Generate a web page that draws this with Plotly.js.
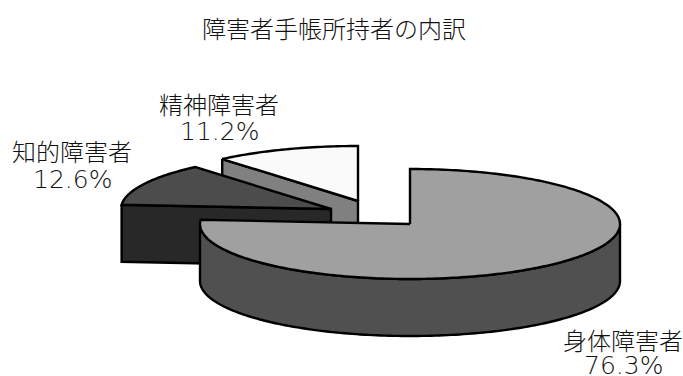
<!DOCTYPE html>
<html lang="ja">
<head>
<meta charset="utf-8">
<script src="https://cdn.plot.ly/plotly-3.0.1.min.js"></script>
<style>html,body{margin:0;padding:0;background:#fff}</style>
</head>
<body>
<div id="chart" style="width:683px;height:376px"></div>
<script>
// Breakdown of disability certificate holders
const chartTitle = '障害者手帳所持者の内訳';
const categories = ['身体障害者', '知的障害者', '精神障害者'];
const shares = [76.3, 12.6, 11.2];

// Pie drawn as an exploded disc seen from above
const radiusX = 210, radiusY = 55, depth = 57;
const centres = [[410, 224], [331, 209], [358, 201]];
const topColours = ['#a0a0a0', '#4c4c4c', '#fafafa'];
const cutColours = [null, '#282828', '#808080'];
const rimColour = '#505050';
const labelAt = [[623, 339, 365], [72, 150, 179], [219, 103, 131]];

const total = shares.reduce((a, b) => a + b, 0);
const edges = [0];
shares.forEach(v => edges.push(edges[edges.length - 1] + v / total * 2 * Math.PI));

const rimPoint = (c, a, drop = 0) => [c[0] + radiusX * Math.sin(a), c[1] - radiusY * Math.cos(a) + drop];

function arc(c, from, to, drop = 0) {
  const n = Math.max(2, Math.ceil(Math.abs(to - from) / 0.02));
  const pts = [];
  for (let i = 0; i <= n; i++) pts.push(rimPoint(c, from + (to - from) * i / n, drop));
  return pts;
}

function shape(pts, colour) {
  return {
    x: pts.map(p => p[0]), y: pts.map(p => p[1]),
    mode: 'lines', fill: 'toself', fillcolor: colour,
    line: {color: '#000', width: 2.4, simplify: false},
    hoverinfo: 'skip', showlegend: false
  };
}

const traces = [];

// Back slices first: the cut wall facing the viewer, then the top face
[2, 1].forEach(i => {
  const c = centres[i];
  const p = rimPoint(c, edges[i]);
  traces.push(shape([p, c, [c[0], c[1] + depth], [p[0], p[1] + depth], p], cutColours[i]));
  traces.push(shape([c, ...arc(c, edges[i], edges[i + 1]), c], topColours[i]));
});

// The large slice: curved front wall, then top face
{
  const c = centres[0];
  const half = Math.PI / 2, threeHalf = 3 * Math.PI / 2;
  traces.push(shape([...arc(c, half, threeHalf), ...arc(c, threeHalf, half, depth), rimPoint(c, half)], rimColour));
  traces.push(shape([c, ...arc(c, edges[0], edges[1]), c], topColours[0]));
}

const latin = '"DejaVu Sans Light", "DejaVu Sans", sans-serif';
const cjk = '"Noto Sans CJK JP", sans-serif';
const textColour = '#111';
const annotations = [{x: 334, y: 27, text: chartTitle, showarrow: false, font: {family: cjk, size: 24, weight: 300, color: textColour}}];
categories.forEach((name, i) => {
  annotations.push({x: labelAt[i][0], y: labelAt[i][1], text: name, showarrow: false, font: {family: cjk, size: 24, weight: 300, color: textColour}});
  annotations.push({x: labelAt[i][0], y: labelAt[i][2], text: shares[i].toFixed(1) + '%', showarrow: false, font: {family: latin, size: 25, weight: 200, color: textColour}});
});

Plotly.newPlot('chart', traces, {
  width: 683, height: 376,
  margin: {l: 0, r: 0, t: 0, b: 0},
  paper_bgcolor: '#fff', plot_bgcolor: '#fff',
  xaxis: {range: [0, 683], visible: false, fixedrange: true},
  yaxis: {range: [376, 0], visible: false, fixedrange: true},
  annotations
}, {displayModeBar: false, staticPlot: true});
</script>
</body>
</html>
